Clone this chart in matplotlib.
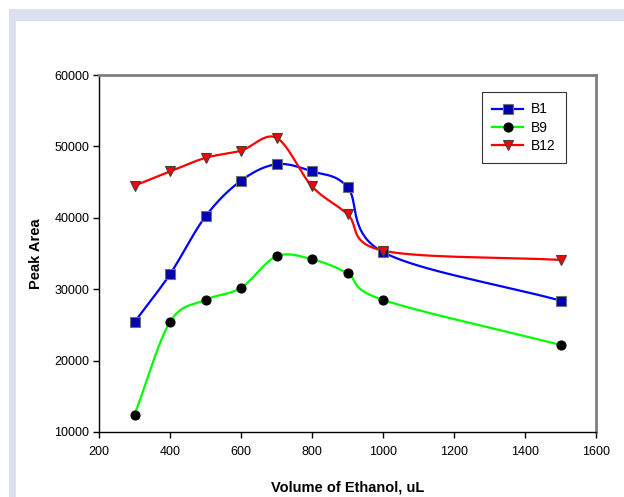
import numpy as np
import matplotlib.pyplot as plt
from matplotlib.patches import Rectangle

# ethanol volume (uL) and peak areas
volume = [300, 400, 500, 600, 700, 800, 900, 1000, 1500]
b1 = [25400, 32100, 40200, 45200, 47500, 46500, 44300, 35200, 28400]
b9 = [12400, 25400, 28500, 30200, 34600, 34200, 32200, 28500, 22200]
b12 = [44500, 46500, 48400, 49400, 51200, 44400, 40500, 35400, 34100]

plt.rcParams['font.family'] = ['Liberation Sans', 'DejaVu Sans']

xlim = (200, 1600)
ylim = (10000, 60000)


def smooth(x, y, n=40):
    # Catmull-Rom spline, computed in axis-normalised units
    sx = (xlim[1] - xlim[0]) / 500.0
    sy = (ylim[1] - ylim[0]) / 357.0
    p = np.column_stack([np.asarray(x, float) / sx, np.asarray(y, float) / sy])
    p = np.vstack([2 * p[0] - p[1], p, 2 * p[-1] - p[-2]])
    out = []
    t = np.linspace(0, 1, n)[:, None]
    for i in range(1, len(p) - 2):
        p0, p1, p2, p3 = p[i - 1], p[i], p[i + 1], p[i + 2]
        c = 0.5 * ((2 * p1) + (-p0 + p2) * t + (2 * p0 - 5 * p1 + 4 * p2 - p3) * t ** 2
                   + (-p0 + 3 * p1 - 3 * p2 + p3) * t ** 3)
        out.append(c if i == 1 else c[1:])
    c = np.vstack(out)
    return c[:, 0] * sx, c[:, 1] * sy


fig = plt.figure(figsize=(6.24, 4.97), dpi=100)

# lavender frame round the panel
fig.patches.append(Rectangle((9 / 624, 0), 1, 1 - 9 / 497, transform=fig.transFigure,
                             facecolor='#dde0ef', edgecolor='none', zorder=-2))
fig.patches.append(Rectangle((16 / 624, 0), 1, 1 - 21 / 497, transform=fig.transFigure,
                             facecolor='white', edgecolor='none', zorder=-1))

ax = fig.add_axes([99 / 624, 1 - 432 / 497, 497 / 624, 357 / 497])
ax.patch.set_alpha(0)

series = [
    (b1, 'B1', '#0000ff', 's', '#0000b0', '#707070', 6.5),
    (b9, 'B9', '#00ff00', 'o', 'black', 'black', 6.5),
    (b12, 'B12', '#ff0000', 'v', '#ff0000', '#404040', 7.5),
]
for y, name, col, mk, fc, ec, ms in series:
    xs, ys = smooth(volume, y)
    ax.plot(xs, ys, color=col, lw=1.6, zorder=2)
    ax.plot(volume, y, linestyle='none', marker=mk, markersize=ms,
            markerfacecolor=fc, markeredgecolor=ec, markeredgewidth=0.8, zorder=3)
    ax.plot([], [], color=col, lw=1.6, marker=mk, markersize=ms,
            markerfacecolor=fc, markeredgecolor=ec, markeredgewidth=0.8, label=name)

ax.set_xlim(xlim)
ax.set_ylim(ylim)
ax.set_xticks(np.arange(200, 1601, 200))
ax.set_yticks(np.arange(10000, 60001, 10000))
ax.tick_params(direction='out', length=4, width=1, labelsize=9, pad=3)
ax.tick_params(axis='x', pad=6)

for s in ['left', 'bottom']:
    ax.spines[s].set_color('black')
    ax.spines[s].set_linewidth(1)
for s in ['top', 'right']:
    ax.spines[s].set_color('#808080')
    ax.spines[s].set_linewidth(2)

ax.set_xlabel('Volume of Ethanol, uL', fontsize=10.5, fontweight='bold', labelpad=16)
ax.set_ylabel('Peak Area', fontsize=10.5, fontweight='bold', labelpad=8)

leg = ax.legend(loc='upper left', bbox_to_anchor=((482 - 99) / 497, (432 - 92) / 357),
                fontsize=10, frameon=True, fancybox=False, handlelength=2.2,
                borderpad=0.75, labelspacing=0.3, handletextpad=0.6, borderaxespad=0)
leg.get_frame().set_edgecolor('black')
leg.get_frame().set_linewidth(0.8)

fig.savefig('out.png', dpi=100)
